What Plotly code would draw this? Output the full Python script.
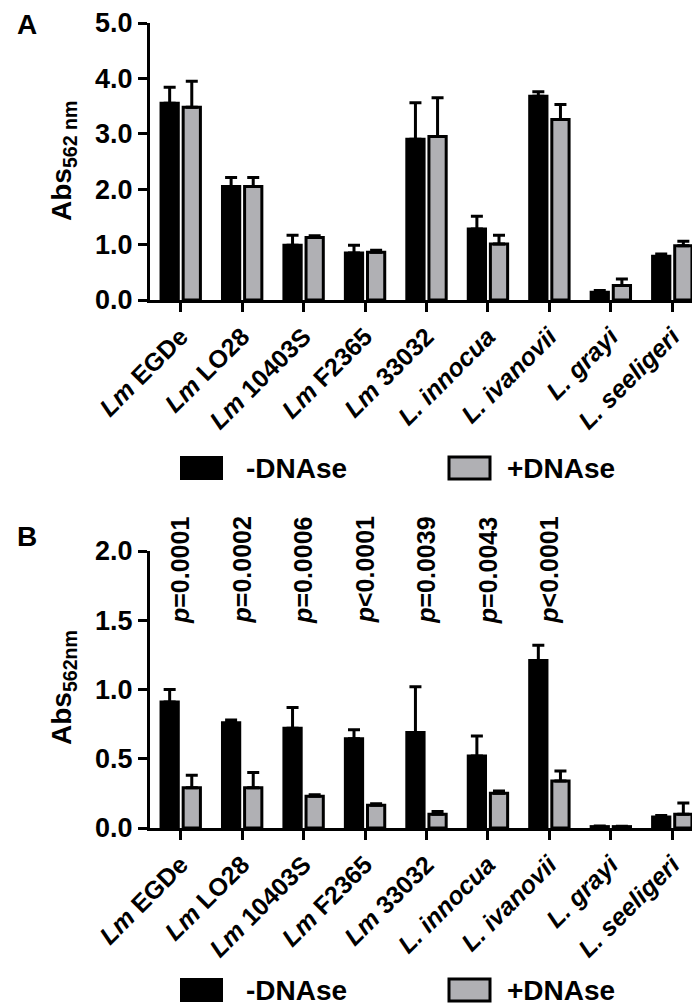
import plotly.graph_objects as go

CATEGORIES = [
    "<i>Lm</i> EGDe", "<i>Lm</i> LO28", "<i>Lm</i> 10403S", "<i>Lm</i> F2365",
    "<i>Lm</i> 33032", "<i>L. innocua</i>", "<i>L. ivanovii</i>",
    "<i>L. grayi</i>", "<i>L. seeligeri</i>",
]

# panel A
A_MINUS = [3.55, 2.05, 0.99, 0.85, 2.90, 1.28, 3.68, 0.14, 0.79]
A_MINUS_ERR = [0.29, 0.16, 0.18, 0.14, 0.66, 0.23, 0.08, 0.03, 0.04]
A_PLUS = [3.48, 2.05, 1.13, 0.86, 2.95, 1.01, 3.26, 0.26, 0.98]
A_PLUS_ERR = [0.47, 0.16, 0.03, 0.04, 0.70, 0.16, 0.27, 0.12, 0.08]

# panel B
B_MINUS = [0.91, 0.76, 0.72, 0.645, 0.69, 0.52, 1.21, 0.01, 0.08]
B_MINUS_ERR = [0.09, 0.02, 0.15, 0.065, 0.33, 0.145, 0.11, 0.005, 0.01]
B_PLUS = [0.29, 0.29, 0.23, 0.165, 0.10, 0.25, 0.34, 0.01, 0.10]
B_PLUS_ERR = [0.09, 0.11, 0.01, 0.01, 0.02, 0.017, 0.072, 0.003, 0.08]

P_LABELS = [
    "<i>p</i>=0.0001", "<i>p</i>=0.0002", "<i>p</i>=0.0006", "<i>p</i>&lt;0.0001",
    "<i>p</i>=0.0039", "<i>p</i>=0.0043", "<i>p</i>&lt;0.0001",
]

FONT = "Liberation Sans"
GRAY = "#B0B0B4"
W, H = 700, 1005


def px_x(x):
    return x / W


def px_y(y):
    return 1 - y / H


def add_panel(fig, xaxis, yaxis, minus, minus_err, plus, plus_err):
    series = [("-DNAse", minus, minus_err, "black"), ("+DNAse", plus, plus_err, GRAY)]
    for name, vals, errs, color in series:
        fig.add_trace(go.Bar(
            x=CATEGORIES,
            y=vals,
            name=name,
            xaxis=xaxis,
            yaxis=yaxis,
            marker=dict(color=color, line=dict(color="black", width=3)),
            error_y=dict(
                type="data", array=errs, arrayminus=[0] * len(errs),
                symmetric=False, color="black", thickness=3, width=6,
            ),
            showlegend=False,
        ))


def add_legend(fig, yc):
    fig.add_shape(type="rect", xref="paper", yref="paper",
                  x0=px_x(172), x1=px_x(215), y0=px_y(yc + 12), y1=px_y(yc - 12),
                  fillcolor="black", line=dict(color="black", width=0))
    fig.add_shape(type="rect", xref="paper", yref="paper",
                  x0=px_x(441), x1=px_x(482), y0=px_y(yc + 11), y1=px_y(yc - 11),
                  fillcolor=GRAY, line=dict(color="black", width=3))
    for x, text in [(236, "-DNAse"), (497, "+DNAse")]:
        fig.add_annotation(x=px_x(x), y=px_y(yc), xref="paper", yref="paper",
                           text=text, showarrow=False, xanchor="left", yanchor="middle",
                           font=dict(family=FONT, size=28, color="black", weight="bold"))


fig = go.Figure()
add_panel(fig, "x", "y", A_MINUS, A_MINUS_ERR, A_PLUS, A_PLUS_ERR)
add_panel(fig, "x2", "y2", B_MINUS, B_MINUS_ERR, B_PLUS, B_PLUS_ERR)

xaxis_style = dict(
    domain=[px_x(142), px_x(695)], type="category", range=[-0.5, 8.5],
    showline=True, linewidth=3, linecolor="black", mirror=False,
    ticks="outside", ticklen=9, tickwidth=3, tickcolor="black",
    tickangle=-45, showgrid=False, zeroline=False, automargin=False,
    tickfont=dict(family=FONT, size=25, color="black", weight="bold"),
)
yaxis_style = dict(
    showline=True, linewidth=3, linecolor="black",
    ticks="outside", ticklen=9, tickwidth=3, tickcolor="black",
    tickformat=".1f", showgrid=False, zeroline=False, automargin=False,
    tickfont=dict(family=FONT, size=27, color="black", weight="bold"),
)

fig.update_layout(
    width=W,
    height=H,
    margin=dict(l=0, r=0, t=0, b=0),
    paper_bgcolor="white",
    plot_bgcolor="white",
    barmode="group",
    bargap=0.28,
    bargroupgap=0.22,
    xaxis=dict(anchor="y", **xaxis_style),
    xaxis2=dict(anchor="y2", **xaxis_style),
    yaxis=dict(anchor="x", domain=[px_y(292), px_y(15)], range=[0, 5], dtick=1, **yaxis_style),
    yaxis2=dict(anchor="x2", domain=[px_y(820), px_y(543)], range=[0, 2], dtick=0.5, **yaxis_style),
)

# panel letters and axis titles
for label, y in [("A", 17), ("B", 528)]:
    fig.add_annotation(x=px_x(19), y=px_y(y), xref="paper", yref="paper", text=label,
                       showarrow=False, xanchor="center", yanchor="middle",
                       font=dict(family=FONT, size=28, color="black", weight="bold"))
for title, y in [("Abs<sub>562 nm</sub>", 153), ("Abs<sub>562nm</sub>", 680)]:
    fig.add_annotation(x=px_x(55), y=px_y(y), xref="paper", yref="paper", text=title,
                       textangle=-90, showarrow=False, xanchor="center", yanchor="middle",
                       font=dict(family=FONT, size=28, color="black", weight="bold"))

# p-values above panel B
for cat, text in zip(CATEGORIES, P_LABELS):
    fig.add_annotation(x=cat, y=1.46, xref="x2", yref="y2", text=text, textangle=-90,
                       showarrow=False, xanchor="center", yanchor="bottom",
                       font=dict(family=FONT, size=25, color="black", weight="bold"))

add_legend(fig, 460)
add_legend(fig, 982)

fig.write_html("out.html")
